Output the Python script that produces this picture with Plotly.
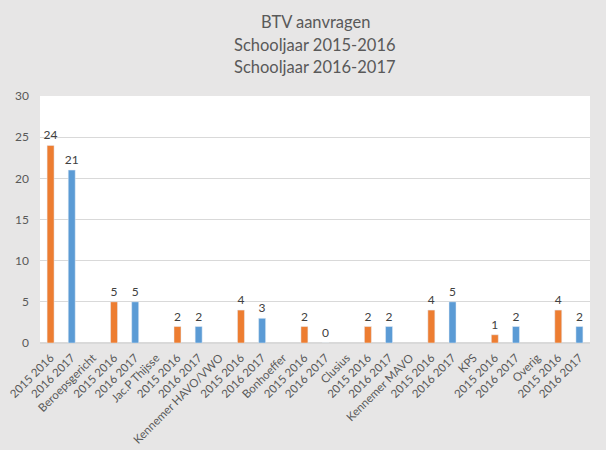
import plotly.graph_objects as go

categories = ["2015 2016", "2016 2017", "Beroepsgericht", "2015 2016", "2016 2017", "Jac.P Thijsse",
              "2015 2016", "2016 2017", "Kennemer HAVO/VWO", "2015 2016", "2016 2017", "Bonhoeffer",
              "2015 2016", "2016 2017", "Clusius", "2015 2016", "2016 2017", "Kennemer MAVO",
              "2015 2016", "2016 2017", "KPS", "2015 2016", "2016 2017", "Overig",
              "2015 2016", "2016 2017"]
values_1516 = [24, 5, 2, 4, 2, 2, 4, 1, 4]
values_1617 = [21, 5, 2, 3, 0, 2, 5, 2, 2]
title_lines = ["BTV aanvragen", "Schooljaar 2015-2016", "Schooljaar 2016-2017"]

x_all = list(range(len(categories)))
x_1516 = [i for i, c in enumerate(categories) if c == "2015 2016"]
x_1617 = [i for i, c in enumerate(categories) if c == "2016 2017"]

FONT = "Lato"
fig = go.Figure()
fig.add_trace(go.Bar(x=x_1516, y=values_1516, marker_color="#ED7D31", width=0.33,
                     text=values_1516, textposition="outside", cliponaxis=False, constraintext="none",
                     textfont=dict(size=12, color="#404040", family=FONT), name="2015-2016"))
fig.add_trace(go.Bar(x=x_1617, y=values_1617, marker_color="#5B9BD5", width=0.33,
                     text=values_1617, textposition="outside", cliponaxis=False, constraintext="none",
                     textfont=dict(size=12, color="#404040", family=FONT), name="2016-2017"))

for k, line in enumerate(title_lines):
    fig.add_annotation(text=line, xref="paper", yref="paper", x=0.5, xanchor="center",
                       y=1 + (74 - 22.5 * k) / 247, yanchor="middle", showarrow=False,
                       font=dict(family=FONT, size=16.5, color="#595959"))

fig.update_layout(
    width=606, height=450,
    paper_bgcolor="#E7E6E6", plot_bgcolor="white",
    margin=dict(l=40, r=16, t=96, b=107),
    barmode="overlay", showlegend=False,
    font=dict(family=FONT, color="#595959"),
)
fig.update_xaxes(range=[-0.5, len(categories) - 0.5], tickvals=x_all, ticktext=categories,
                 tickangle=-45, tickfont=dict(size=11.5, color="#595959"), automargin=False,
                 ticklabelstandoff=5,
                 showgrid=False, showline=False, ticks="", zeroline=False)
fig.update_yaxes(range=[0, 30], dtick=5, showgrid=True, gridcolor="#D9D9D9", gridwidth=1,
                 zeroline=True, zerolinecolor="#D9D9D9", showline=False, ticks="", automargin=False,
                 tickfont=dict(size=12, color="#595959"), ticklabelstandoff=10)

fig.write_html("out.html")
